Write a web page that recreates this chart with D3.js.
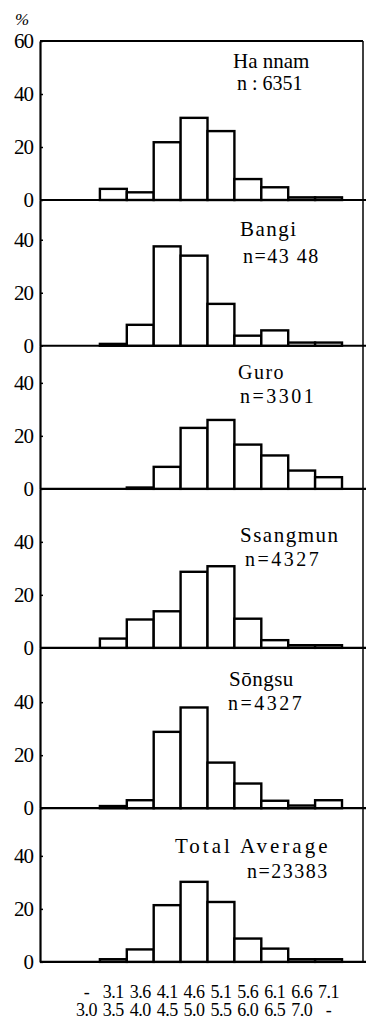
<!DOCTYPE html>
<html>
<head>
<meta charset="utf-8">
<script src="https://cdn.jsdelivr.net/npm/d3@7"></script>
<style>
  body { margin: 0; background: #fff; }
</style>
</head>
<body>
<svg id="chart" width="366" height="1019" font-family="'Liberation Serif', 'Times New Roman', 'DejaVu Serif', serif"></svg>
<script>
// size classes (bins) and the two printed label rows
const bins = ["-3.0", "3.1-3.5", "3.6-4.0", "4.1-4.5", "4.6-5.0", "5.1-5.5", "5.6-6.0", "6.1-6.5", "6.6-7.0", "7.1-"];
const binTop = ["-", "3.1", "3.6", "4.1", "4.6", "5.1", "5.6", "6.1", "6.6", "7.1"];
const binBottom = ["3.0", "3.5", "4.0", "4.5", "5.0", "5.5", "6.0", "6.5", "7.0", "-"];

const districts = ["Ha nnam", "Bangi", "Guro", "Ssangmun", "S\u014Dngsu", "Total Average"];
const counts = ["n : 6351", "n=43 48", "n=3301", "n=4327", "n=4327", "n=23383"];

// percent per bin
const hannam   = [0, 4.2, 2.9, 21.8, 31.0, 26.0, 7.9, 4.8, 1.0, 1.0];
const bangi    = [0, 0.7, 7.9, 37.5, 34.0, 15.8, 3.8, 5.8, 1.2, 1.2];
const guro     = [0, 0, 0.5, 8.3, 23.0, 26.0, 16.7, 12.6, 6.9, 4.4];
const ssangmun = [0, 3.5, 10.7, 13.8, 28.7, 30.8, 11.0, 2.9, 1.0, 1.0];
const songsu   = [0, 0.8, 3.0, 28.8, 38.0, 17.2, 9.3, 2.8, 1.0, 3.0];
const total    = [0, 1.0, 4.7, 21.4, 30.2, 22.6, 8.8, 5.0, 1.0, 1.0];
const series = [hannam, bangi, guro, ssangmun, songsu, total];

// y domain top of each stacked panel
const yMax = [60, 55, 54, 60, 60.5, 58];

// layout
const axisX = 40, rightX = 363, frameTop = 41, pxPerPct = 2.65;
const labelPos = [
  { x: 233, y: 68, nx: 237, ny: 90, sp: 0, nsp: 0 },
  { x: 240, y: 236, nx: 243, ny: 263, sp: 1.5, nsp: 1.5 },
  { x: 238, y: 379, nx: 240, ny: 403, sp: 1.5, nsp: 2.5 },
  { x: 240, y: 542, nx: 245, ny: 566, sp: 1.5, nsp: 2.5 },
  { x: 229, y: 686, nx: 228, ny: 710, sp: 0.5, nsp: 2.5 },
  { x: 175, y: 853, nx: 247, ny: 878, sp: 3, nsp: 1.5 }
];

const svg = d3.select('#chart');
const x = d3.scaleBand().domain(bins).range([73, 342]).padding(0);

svg.append('text').attr('x', 15).attr('y', 25)
  .attr('font-size', 17).attr('font-style', 'italic').text('%');

// top frame line and right border
let acc = frameTop;
const bottoms = [];
yMax.forEach(m => { acc += m * pxPerPct; bottoms.push(acc); });

svg.append('line').attr('x1', axisX).attr('x2', rightX).attr('y1', frameTop).attr('y2', frameTop)
  .attr('stroke', '#000').attr('stroke-width', 2);
svg.append('line').attr('x1', rightX).attr('x2', rightX).attr('y1', frameTop).attr('y2', bottoms[5])
  .attr('stroke', '#000').attr('stroke-width', 1.5);

let y0 = frameTop;
series.forEach((vals, i) => {
  const h = yMax[i] * pxPerPct;
  const y = d3.scaleLinear().domain([0, yMax[i]]).range([y0 + h, y0]);
  const g = svg.append('g');

  g.append('line')
    .attr('x1', axisX).attr('x2', 366)
    .attr('y1', y(0)).attr('y2', y(0))
    .attr('stroke', '#000').attr('stroke-width', 2.2);

  g.selectAll('rect')
    .data(vals.map((v, j) => ({ bin: bins[j], v })).filter(d => d.v > 0))
    .enter()
    .append('rect')
    .attr('x', d => x(d.bin))
    .attr('width', x.bandwidth())
    .attr('y', d => y(d.v))
    .attr('height', d => y(0) - y(d.v))
    .attr('fill', '#fff')
    .attr('stroke', '#000')
    .attr('stroke-width', 2.4);

  const ax = d3.axisLeft(y)
    .tickValues(i === 0 ? [0, 20, 40, 60] : [0, 20, 40])
    .tickSizeInner(-3).tickSizeOuter(0).tickPadding(7);
  const ag = g.append('g').attr('transform', `translate(${axisX},0)`).call(ax)
    .attr('font-family', null).attr('font-size', null);
  ag.select('.domain').attr('stroke-width', 2.2);
  ag.selectAll('.tick line').attr('stroke-width', 1.5);
  ag.selectAll('.tick text').attr('font-size', 21).attr('letter-spacing', -1);

  const lp = labelPos[i];
  g.append('text').attr('x', lp.x).attr('y', lp.y)
    .attr('font-size', i === 2 ? 20 : 21).attr('letter-spacing', lp.sp).text(districts[i]);
  g.append('text').attr('x', lp.nx).attr('y', lp.ny)
    .attr('font-size', 20).attr('letter-spacing', lp.nsp).text(counts[i]);

  // bin labels under the last panel
  if (i === series.length - 1) {
    const xg = g.append('g').attr('transform', `translate(0,${y(0)})`)
      .call(d3.axisBottom(x).tickSize(0).tickPadding(23))
      .attr('font-family', null).attr('font-size', null);
    xg.select('.domain').remove();
    xg.selectAll('.tick text').each(function (d, j) {
      const t = d3.select(this).attr('font-size', 18).attr('letter-spacing', -0.5);
      t.text(null);
      t.append('tspan').attr('x', 0).text(binTop[j]);
      t.append('tspan').attr('x', 0).attr('dy', '1em').text(binBottom[j]);
    });
  }

  y0 += h;
});
</script>
</body>
</html>
